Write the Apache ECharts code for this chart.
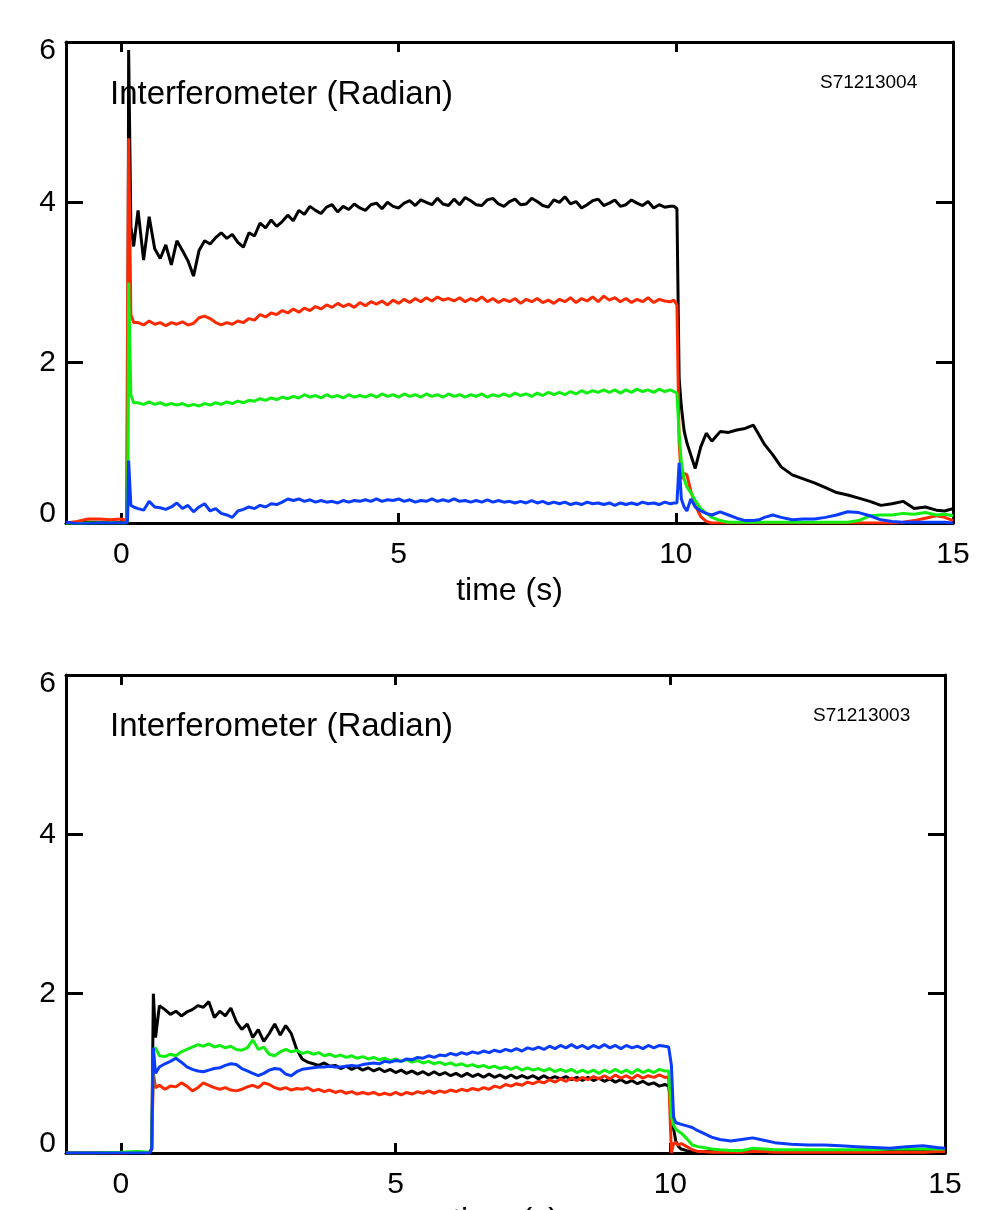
<!DOCTYPE html>
<html><head><meta charset="utf-8">
<script src="https://cdn.jsdelivr.net/npm/echarts@6/dist/echarts.min.js"></script>
<style>html,body{margin:0;padding:0;background:#fff}#c{width:988px;height:1210px}</style>
</head><body><div id="c"></div>
<script>
// ---------- DATA ----------
const X_TICKS = [0, 5, 10, 15];
const Y_TICKS_INTERVAL = 2;
const SERIES_NAMES = ['black', 'red', 'green', 'blue'];
const SERIES_COLORS = ['#000000', '#ff2a00', '#11ee11', '#0a3cff'];
const TITLE_TEXT = 'Interferometer (Radian)';
const SHOT_TOP = 'S71213004';
const SHOT_BOT = 'S71213003';
const X_NAME = 'time (s)';

// ---- Top plot (S71213004) ----
const T_TOP_PRE = [-1.0, -0.8, -0.6, -0.4, -0.2, 0.0, 0.09, 0.11, 0.13, 0.17, 0.22];
const T_TOP_MID = [
  0.3,0.4,0.5,0.6,0.7,0.8,0.9,1.0,1.1,1.2,
  1.3,1.4,1.5,1.6,1.7,1.8,1.9,2.0,2.1,2.2,
  2.3,2.4,2.5,2.6,2.7,2.8,2.9,3.0,3.1,3.2,
  3.3,3.4,3.5,3.6,3.7,3.8,3.9,4.0,4.1,4.2,
  4.3,4.4,4.5,4.6,4.7,4.8,4.9,5.0,5.1,5.2,
  5.3,5.4,5.5,5.6,5.7,5.8,5.9,6.0,6.1,6.2,
  6.3,6.4,6.5,6.6,6.7,6.8,6.9,7.0,7.1,7.2,
  7.3,7.4,7.5,7.6,7.7,7.8,7.9,8.0,8.1,8.2,
  8.3,8.4,8.5,8.6,8.7,8.8,8.9,9.0,9.1,9.2,
  9.3,9.4,9.5,9.6,9.7,9.8,9.9];
const T_TOP_POST = [9.97,10.02,10.06,10.1,10.15,10.2,10.27,10.35,10.45,10.55,
  10.65,10.8,10.95,11.1,11.25,11.4,11.5,11.6,11.75,11.9,
  12.1,12.3,12.5,12.7,12.9,13.1,13.3,13.5,13.7,13.9,
  14.1,14.3,14.5,14.7,14.85,15.0];

const TOP_BLACK_PRE = [-0.01,0.0,0.01,0.01,0.0,0.01,0.02,0.05,5.9,3.7,3.45];
const TOP_BLACK_MID = [
  3.9,3.28,3.82,3.42,3.3,3.47,3.22,3.52,3.4,3.27,
  3.08,3.4,3.52,3.48,3.56,3.62,3.55,3.6,3.5,3.44,
  3.62,3.58,3.74,3.68,3.78,3.7,3.76,3.84,3.77,3.9,
  3.85,3.95,3.9,3.86,3.94,3.97,3.88,3.95,3.91,3.98,
  3.93,3.9,3.97,3.99,3.92,4.0,3.95,3.93,3.99,4.02,
  3.96,4.03,4.0,3.97,4.05,3.98,3.96,4.04,3.97,4.06,
  4.02,3.97,3.96,4.03,4.05,3.98,3.95,4.01,4.04,3.97,
  3.98,4.05,4.01,3.96,3.94,4.03,4.0,4.07,3.98,4.01,
  3.93,3.97,4.02,4.04,3.96,3.99,4.03,3.95,3.97,4.03,
  3.99,3.96,4.01,3.93,3.97,3.94,3.95];
const TOP_BLACK_POST = [3.95,3.92,1.8,1.45,1.15,1.0,0.85,0.68,0.95,1.12,
  1.02,1.14,1.13,1.16,1.18,1.22,1.1,0.98,0.85,0.7,
  0.6,0.55,0.5,0.44,0.38,0.35,0.31,0.27,0.22,0.24,
  0.27,0.18,0.2,0.16,0.15,0.18];

const TOP_RED_PRE = [0.0,0.02,0.05,0.05,0.04,0.05,0.03,0.05,4.8,2.6,2.5];
const TOP_RED_MID = [
  2.5,2.47,2.52,2.48,2.5,2.46,2.5,2.48,2.51,2.47,
  2.49,2.56,2.58,2.55,2.5,2.47,2.5,2.48,2.52,2.5,
  2.55,2.53,2.6,2.57,2.62,2.6,2.65,2.62,2.67,2.63,
  2.68,2.65,2.7,2.67,2.72,2.69,2.74,2.7,2.73,2.69,
  2.75,2.71,2.76,2.73,2.77,2.72,2.78,2.74,2.79,2.75,
  2.8,2.76,2.81,2.77,2.82,2.78,2.8,2.77,2.81,2.76,
  2.8,2.77,2.82,2.76,2.8,2.75,2.79,2.76,2.8,2.74,
  2.79,2.76,2.8,2.75,2.78,2.74,2.79,2.76,2.81,2.75,
  2.8,2.77,2.82,2.76,2.83,2.78,2.81,2.76,2.8,2.75,
  2.79,2.76,2.81,2.75,2.79,2.77,2.76];
const TOP_RED_POST = [2.78,2.72,1.0,0.55,0.62,0.6,0.4,0.22,0.08,0.02,
  0,0,0,0,0,0,0,0,0,0,
  0,0,0,0,0,0,0,0,0,0,
  0.01,0.03,0.06,0.09,0.07,0.03];

const TOP_GREEN_PRE = [-0.01,-0.01,0.0,0.0,0.0,0.0,0.0,0.03,3.0,1.6,1.5];
const TOP_GREEN_MID = [
  1.5,1.48,1.51,1.48,1.5,1.47,1.49,1.47,1.49,1.46,
  1.48,1.46,1.49,1.47,1.5,1.48,1.51,1.49,1.52,1.5,
  1.53,1.52,1.55,1.53,1.56,1.54,1.57,1.55,1.58,1.56,
  1.6,1.57,1.59,1.56,1.6,1.57,1.59,1.56,1.6,1.57,
  1.59,1.57,1.6,1.57,1.61,1.58,1.6,1.57,1.61,1.58,
  1.6,1.57,1.61,1.58,1.6,1.57,1.61,1.58,1.6,1.57,
  1.6,1.58,1.61,1.57,1.6,1.58,1.61,1.58,1.62,1.59,
  1.61,1.58,1.62,1.59,1.63,1.6,1.63,1.6,1.64,1.61,
  1.65,1.62,1.65,1.63,1.66,1.63,1.66,1.62,1.66,1.63,
  1.67,1.64,1.66,1.63,1.67,1.64,1.66];
const TOP_GREEN_POST = [1.64,1.62,1.1,0.75,0.55,0.45,0.38,0.28,0.18,0.12,
  0.07,0.03,0.01,0.01,0.01,0.01,0.01,0.01,0.01,0.01,
  0.01,0.01,0.01,0.01,0.01,0.01,0.03,0.09,0.1,0.1,
  0.12,0.11,0.13,0.1,0.11,0.09];

const TOP_BLUE_PRE = [0.01,-0.01,-0.01,0.0,0.0,0.0,0.0,0.03,0.78,0.22,0.2];
const TOP_BLUE_MID = [
  0.18,0.16,0.27,0.2,0.19,0.17,0.2,0.25,0.18,0.22,
  0.14,0.2,0.24,0.15,0.18,0.12,0.1,0.07,0.15,0.17,
  0.2,0.18,0.22,0.2,0.24,0.23,0.26,0.3,0.28,0.3,
  0.27,0.29,0.26,0.28,0.26,0.27,0.25,0.28,0.26,0.28,
  0.27,0.29,0.27,0.3,0.27,0.29,0.28,0.3,0.27,0.29,
  0.26,0.28,0.27,0.3,0.27,0.29,0.27,0.3,0.27,0.28,
  0.26,0.28,0.26,0.29,0.26,0.28,0.26,0.27,0.25,0.27,
  0.25,0.28,0.25,0.27,0.24,0.26,0.24,0.26,0.23,0.25,
  0.23,0.26,0.24,0.25,0.23,0.25,0.22,0.25,0.23,0.25,
  0.23,0.26,0.24,0.25,0.23,0.26,0.24];
const TOP_BLUE_POST = [0.25,0.25,0.75,0.3,0.2,0.15,0.3,0.2,0.15,0.12,
  0.1,0.14,0.1,0.06,0.03,0.03,0.04,0.07,0.1,0.07,
  0.04,0.05,0.05,0.07,0.1,0.14,0.13,0.09,0.04,0.02,
  0.01,0.01,0.01,0.01,0.01,0.0];

// ---- Bottom plot (S71213003) ----
const T_BOT_PRE = [-1.0, -0.5, 0.0, 0.3, 0.52, 0.56, 0.59, 0.63, 0.7];
const T_BOT_MID = [
  0.8,0.9,1.0,1.1,1.2,1.3,1.4,1.5,1.6,1.7,
  1.8,1.9,2.0,2.1,2.2,2.3,2.4,2.5,2.6,2.7,
  2.8,2.9,3.0,3.1,3.2,3.3,3.4,3.5,3.6,3.7,
  3.8,3.9,4.0,4.1,4.2,4.3,4.4,4.5,4.6,4.7,
  4.8,4.9,5.0,5.1,5.2,5.3,5.4,5.5,5.6,5.7,
  5.8,5.9,6.0,6.1,6.2,6.3,6.4,6.5,6.6,6.7,
  6.8,6.9,7.0,7.1,7.2,7.3,7.4,7.5,7.6,7.7,
  7.8,7.9,8.0,8.1,8.2,8.3,8.4,8.5,8.6,8.7,
  8.8,8.9,9.0,9.1,9.2,9.3,9.4,9.5,9.6,9.7,
  9.8,9.9];
const T_BOT_POST = [9.97,10.02,10.06,10.1,10.15,10.2,10.3,10.4,10.5,10.6,
  10.75,10.9,11.1,11.3,11.5,11.7,11.9,12.2,12.5,12.8,
  13.1,13.4,13.7,14.0,14.3,14.6,14.85,15.0];

const BOT_BLACK_PRE = [0,0,0,0.01,0,0.05,2.0,1.45,1.85];
const BOT_BLACK_MID = [
  1.8,1.74,1.78,1.72,1.77,1.8,1.85,1.83,1.9,1.7,
  1.78,1.72,1.82,1.65,1.55,1.62,1.45,1.55,1.4,1.5,
  1.62,1.48,1.6,1.5,1.3,1.18,1.14,1.12,1.1,1.13,
  1.09,1.1,1.06,1.09,1.05,1.08,1.04,1.07,1.03,1.06,
  1.02,1.05,1.01,1.04,1.0,1.03,0.99,1.02,0.98,1.02,
  0.98,1.01,0.97,1.0,0.96,1.0,0.96,0.99,0.95,0.99,
  0.95,0.98,0.94,0.98,0.94,0.97,0.94,0.97,0.93,0.97,
  0.93,0.96,0.93,0.96,0.92,0.95,0.91,0.95,0.91,0.94,
  0.9,0.93,0.89,0.92,0.88,0.91,0.87,0.9,0.86,0.88,
  0.84,0.86];
const BOT_BLACK_POST = [0.84,0.6,0.3,0.15,0.08,0.05,0.03,0.02,0.02,0.02,
  0.02,0.01,0.02,0.02,0.02,0.02,0.02,0.02,0.02,0.02,
  0.01,0.02,0.02,0.02,0.02,0.02,0.02,0.02];

const BOT_RED_PRE = [0,0,0,0.01,0,0.05,1.0,0.82,0.85];
const BOT_RED_MID = [
  0.8,0.84,0.83,0.88,0.84,0.78,0.82,0.88,0.85,0.82,
  0.8,0.82,0.79,0.78,0.8,0.83,0.85,0.82,0.88,0.86,
  0.82,0.8,0.82,0.79,0.81,0.8,0.82,0.78,0.8,0.77,
  0.79,0.76,0.78,0.75,0.77,0.74,0.76,0.74,0.76,0.73,
  0.75,0.73,0.76,0.73,0.76,0.74,0.77,0.75,0.78,0.75,
  0.78,0.76,0.79,0.77,0.8,0.78,0.81,0.79,0.82,0.8,
  0.84,0.82,0.86,0.84,0.87,0.85,0.89,0.87,0.9,0.88,
  0.92,0.89,0.93,0.9,0.94,0.91,0.95,0.92,0.96,0.93,
  0.97,0.93,0.98,0.94,0.97,0.93,0.98,0.94,0.97,0.95,
  0.98,0.95];
const BOT_RED_POST = [0.95,0.0,0.12,0.13,0.1,0.12,0.08,0.04,0.02,0.02,
  0.01,0.01,0.01,0.01,0.02,0.02,0.01,0.01,0.01,0.01,
  0.01,0.01,0.01,0.01,0.01,0.01,0.02,0.02];

const BOT_GREEN_PRE = [0,0,0.01,0.02,0.01,0.05,1.3,1.32,1.22];
const BOT_GREEN_MID = [
  1.21,1.24,1.22,1.27,1.3,1.33,1.36,1.34,1.37,1.33,
  1.35,1.32,1.34,1.3,1.29,1.32,1.42,1.3,1.33,1.24,
  1.22,1.27,1.3,1.27,1.29,1.25,1.27,1.24,1.26,1.22,
  1.24,1.21,1.23,1.2,1.22,1.19,1.21,1.18,1.2,1.17,
  1.19,1.16,1.18,1.15,1.17,1.14,1.16,1.13,1.15,1.12,
  1.14,1.11,1.13,1.1,1.12,1.09,1.11,1.08,1.1,1.07,
  1.09,1.06,1.08,1.05,1.08,1.04,1.07,1.04,1.06,1.03,
  1.06,1.02,1.05,1.02,1.05,1.01,1.04,1.01,1.04,1.0,
  1.04,1.01,1.05,1.01,1.04,1.0,1.05,1.01,1.04,1.01,
  1.05,1.03];
const BOT_GREEN_POST = [1.03,0.45,0.35,0.3,0.27,0.25,0.18,0.1,0.08,0.07,
  0.05,0.04,0.03,0.03,0.06,0.05,0.04,0.04,0.04,0.04,
  0.04,0.04,0.04,0.05,0.05,0.05,0.05,0.05];

const BOT_BLUE_PRE = [0,0,0,0,0,0.05,1.32,1.0,1.08];
const BOT_BLUE_MID = [
  1.12,1.15,1.19,1.14,1.08,1.05,1.03,1.02,1.04,1.06,
  1.07,1.1,1.12,1.11,1.06,1.03,1.0,0.97,1.0,1.04,
  1.06,1.05,0.99,0.97,1.02,1.05,1.06,1.07,1.08,1.08,
  1.09,1.08,1.08,1.09,1.1,1.09,1.11,1.12,1.13,1.12,
  1.15,1.14,1.16,1.15,1.18,1.17,1.2,1.19,1.22,1.2,
  1.23,1.22,1.25,1.23,1.26,1.24,1.27,1.25,1.28,1.26,
  1.29,1.27,1.3,1.28,1.31,1.28,1.32,1.3,1.33,1.3,
  1.34,1.31,1.35,1.32,1.36,1.32,1.35,1.31,1.35,1.32,
  1.36,1.32,1.35,1.31,1.35,1.32,1.34,1.31,1.35,1.32,
  1.35,1.34];
const BOT_BLUE_POST = [1.33,1.1,0.45,0.38,0.37,0.36,0.34,0.32,0.28,0.25,
  0.2,0.17,0.15,0.17,0.19,0.16,0.13,0.11,0.1,0.1,
  0.09,0.08,0.07,0.06,0.08,0.09,0.07,0.06];

// ---------- BUILD ----------
const FONT = '"Liberation Sans", Arial, Helvetica, sans-serif';
function pairs(ts, vs) { return ts.map((t, i) => [t, vs[i]]); }
function seg(tp, tm, tq, a, b, c) { return pairs(tp, a).concat(pairs(tm, b), pairs(tq, c)); }

const topData = [
  seg(T_TOP_PRE, T_TOP_MID, T_TOP_POST, TOP_BLACK_PRE, TOP_BLACK_MID, TOP_BLACK_POST),
  seg(T_TOP_PRE, T_TOP_MID, T_TOP_POST, TOP_RED_PRE, TOP_RED_MID, TOP_RED_POST),
  seg(T_TOP_PRE, T_TOP_MID, T_TOP_POST, TOP_GREEN_PRE, TOP_GREEN_MID, TOP_GREEN_POST),
  seg(T_TOP_PRE, T_TOP_MID, T_TOP_POST, TOP_BLUE_PRE, TOP_BLUE_MID, TOP_BLUE_POST)
];
const botData = [
  seg(T_BOT_PRE, T_BOT_MID, T_BOT_POST, BOT_BLACK_PRE, BOT_BLACK_MID, BOT_BLACK_POST),
  seg(T_BOT_PRE, T_BOT_MID, T_BOT_POST, BOT_RED_PRE, BOT_RED_MID, BOT_RED_POST),
  seg(T_BOT_PRE, T_BOT_MID, T_BOT_POST, BOT_GREEN_PRE, BOT_GREEN_MID, BOT_GREEN_POST),
  seg(T_BOT_PRE, T_BOT_MID, T_BOT_POST, BOT_BLUE_PRE, BOT_BLUE_MID, BOT_BLUE_POST)
];

const axLine = { show: true, onZero: false, lineStyle: { color: '#000', width: 3 } };
function xAxes(g) {
  return [
    { type: 'value', gridIndex: g, position: 'bottom', min: -1, max: 15,
      axisLine: axLine,
      axisTick: { show: true, inside: true, length: 10, customValues: X_TICKS, lineStyle: { color: '#000', width: 3 } },
      axisLabel: { show: true, customValues: X_TICKS, margin: 17, fontSize: 30, color: '#000', fontFamily: FONT },
      splitLine: { show: false },
      name: X_NAME, nameLocation: 'middle', nameGap: 52,
      nameTextStyle: { fontSize: 32, color: '#000', fontFamily: FONT } },
    { type: 'value', gridIndex: g, position: 'top', min: -1, max: 15,
      axisLine: axLine,
      axisTick: { show: true, inside: true, length: 10, customValues: X_TICKS, lineStyle: { color: '#000', width: 3 } },
      axisLabel: { show: false }, splitLine: { show: false } }
  ];
}
function yAxes(g) {
  return [
    { type: 'value', gridIndex: g, position: 'left', min: 0, max: 6, interval: Y_TICKS_INTERVAL,
      axisLine: axLine,
      axisTick: { show: true, inside: true, length: 17, lineStyle: { color: '#000', width: 3 } },
      axisLabel: { show: true, margin: 10, fontSize: 30, lineHeight: 18, color: '#000', fontFamily: FONT,
        verticalAlignMinLabel: 'bottom', verticalAlignMaxLabel: 'top' },
      splitLine: { show: false } },
    { type: 'value', gridIndex: g, position: 'right', min: 0, max: 6, interval: Y_TICKS_INTERVAL,
      axisLine: axLine,
      axisTick: { show: true, inside: true, length: 17, lineStyle: { color: '#000', width: 3 } },
      axisLabel: { show: false }, splitLine: { show: false } }
  ];
}

const series = [];
[topData, botData].forEach((arr, g) => {
  arr.forEach((d, i) => {
    series.push({
      type: 'line', name: SERIES_NAMES[i] + g, data: d,
      xAxisIndex: g * 2, yAxisIndex: g * 2,
      showSymbol: false, symbol: 'none', animation: false, clip: true,
      lineStyle: { color: SERIES_COLORS[i], width: 3 },
      itemStyle: { color: SERIES_COLORS[i] },
      z: 2 + i
    });
  });
});

const chart = echarts.init(document.getElementById('c'), null, { renderer: 'canvas' });
chart.setOption({
  animation: false,
  backgroundColor: '#fff',
  grid: [
    { left: 66, top: 42, width: 887, height: 481, containLabel: false, outerBoundsMode: 'none' },
    { left: 66, top: 675, width: 879, height: 478, containLabel: false, outerBoundsMode: 'none' }
  ],
  xAxis: xAxes(0).concat(xAxes(1)),
  yAxis: yAxes(0).concat(yAxes(1)),
  series: series,
  graphic: [
    { type: 'text', x: 110, y: 95, style: { text: TITLE_TEXT, fontSize: 33, fontFamily: FONT, fill: '#000', verticalAlign: 'middle' } },
    { type: 'text', x: 820, y: 83, style: { text: SHOT_TOP, fontSize: 19, fontFamily: FONT, fill: '#000', verticalAlign: 'middle' } },
    { type: 'text', x: 110, y: 727, style: { text: TITLE_TEXT, fontSize: 33, fontFamily: FONT, fill: '#000', verticalAlign: 'middle' } },
    { type: 'text', x: 813, y: 716, style: { text: SHOT_BOT, fontSize: 19, fontFamily: FONT, fill: '#000', verticalAlign: 'middle' } }
  ]
});
</script></body></html>
